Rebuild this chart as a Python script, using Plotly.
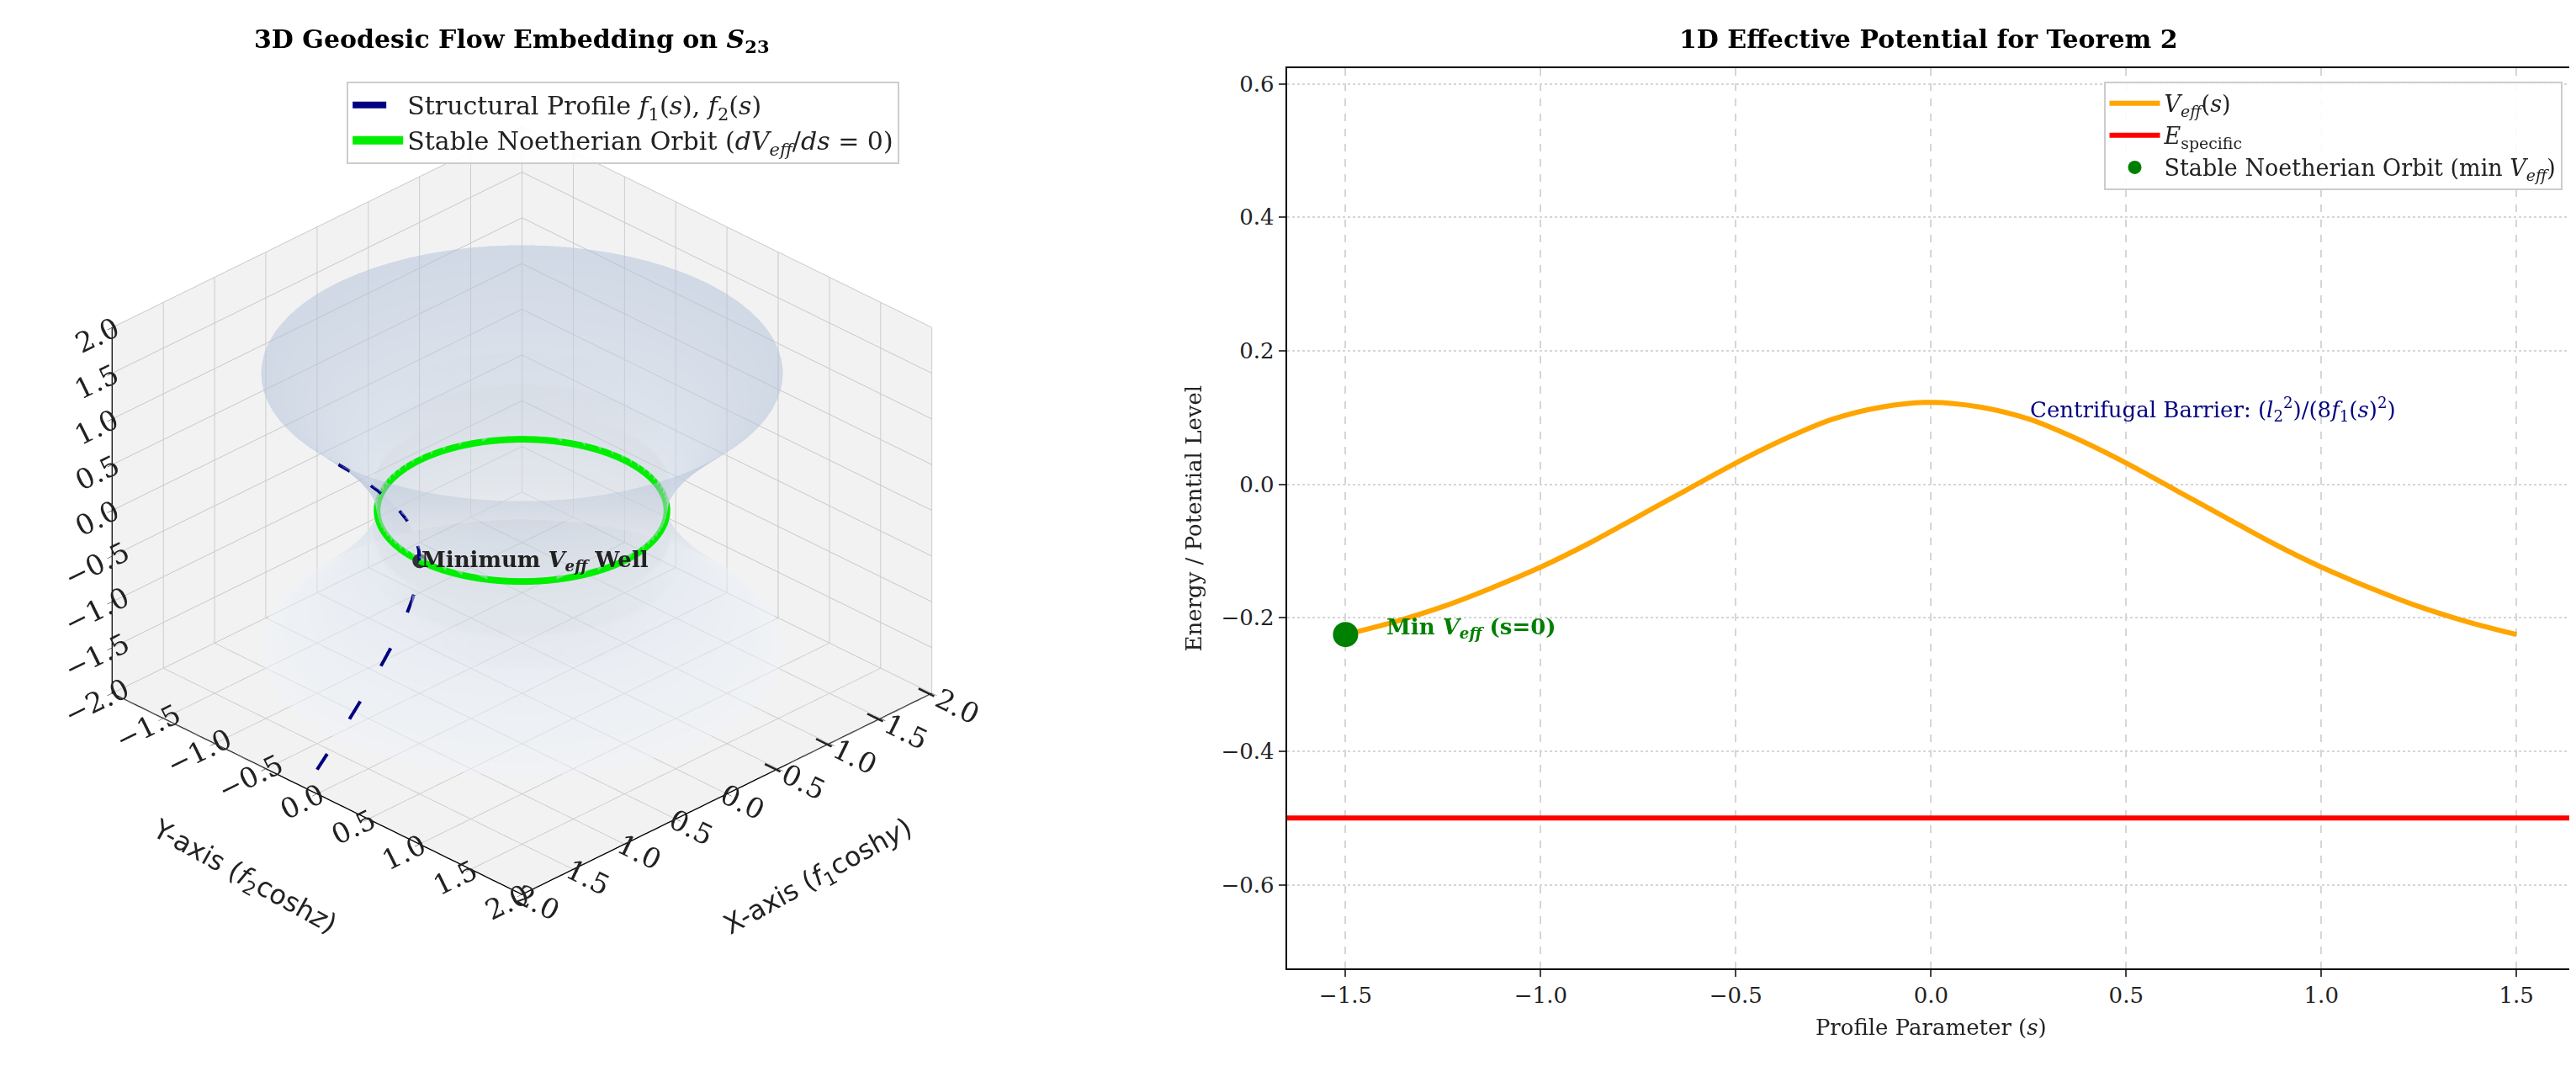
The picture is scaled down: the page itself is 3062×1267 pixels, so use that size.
import numpy as np
import plotly.graph_objects as go

# ---- data ----
# 1D effective potential (right panel)
s_vals = [-1.5, -1.375, -1.25, -1.125, -1.0, -0.875, -0.75, -0.625, -0.5, -0.375, -0.25, -0.125,
          0.0, 0.125, 0.25, 0.375, 0.5, 0.625, 0.75, 0.875, 1.0, 1.125, 1.25, 1.375, 1.5]
v_eff = [-0.225, -0.206, -0.183, -0.155, -0.124, -0.088, -0.048, -0.008, 0.032, 0.068, 0.098, 0.116,
         0.123, 0.116, 0.098, 0.068, 0.032, -0.008, -0.048, -0.088, -0.124, -0.155, -0.183, -0.206, -0.225]
e_specific = -0.5
min_point_s = [-1.5]
min_point_v = [-0.225]

# 3D structural profile (dashed curve, lies in the y = 0 plane)
profile_x = [2.352, 2.104, 1.888, 1.702, 1.543, 1.408, 1.295, 1.202, 1.128, 1.071, 1.031, 1.008,
             1.0, 1.008, 1.031, 1.071, 1.128, 1.202, 1.295, 1.408, 1.543, 1.702, 1.888, 2.104, 2.352]
profile_z = [-2.129, -1.857, -1.602, -1.379, -1.175, -0.991, -0.822, -0.667, -0.521, -0.384, -0.253, -0.125,
             0.0, 0.125, 0.253, 0.384, 0.521, 0.667, 0.822, 0.991, 1.175, 1.379, 1.602, 1.857, 2.129]

# surface of revolution: radius at each height
surf_z = [-1.5, -1.25, -1.0, -0.75, -0.5, -0.25, 0.0, 0.25, 0.5, 0.75, 1.0, 1.25, 1.5]
surf_r = [1.80, 1.60, 1.41, 1.25, 1.12, 1.03, 1.0, 1.03, 1.12, 1.25, 1.41, 1.60, 1.80]

orbit_radius = 1.0
orbit_height = 0.0
well_point = [1.0, 0.0, 0.0]

SERIF = "DejaVu Serif"
SANS = "DejaVu Sans"

fig = go.Figure()

# surface mesh
theta = np.linspace(0, 2 * np.pi, 80)
zz = np.array(surf_z)
rr = np.array(surf_r)
Xs = np.outer(rr, np.cos(theta))
Ys = np.outer(rr, np.sin(theta))
Zs = np.outer(zz, np.ones_like(theta))
fig.add_trace(go.Surface(
    x=Xs, y=Ys, z=Zs,
    colorscale=[[0, '#eef2f8'], [0.45, '#d6e0ee'], [1, '#aebfd8']],
    surfacecolor=Zs,
    opacity=0.5, showscale=False, hoverinfo='skip', showlegend=False,
    lighting=dict(ambient=0.95, diffuse=0.2, specular=0.02),
))

fig.add_trace(go.Scatter3d(
    x=profile_x, y=[0] * len(profile_x), z=profile_z,
    mode='lines', line=dict(color='navy', width=8, dash='longdash'),
    name='Structural Profile <i>f</i><sub>1</sub>(<i>s</i>), <i>f</i><sub>2</sub>(<i>s</i>)',
    legend='legend',
))

phi = np.linspace(0, 2 * np.pi, 120)
fig.add_trace(go.Scatter3d(
    x=orbit_radius * np.cos(phi), y=orbit_radius * np.sin(phi),
    z=np.full_like(phi, orbit_height),
    mode='lines', line=dict(color='#00ee00', width=16),
    name='Stable Noetherian Orbit (<i>dV</i><sub><i>eff</i></sub>/<i>ds</i> = 0)',
    legend='legend',
))

fig.add_trace(go.Scatter3d(
    x=[well_point[0]], y=[well_point[1]], z=[well_point[2]],
    mode='markers', marker=dict(color='#2f3338', size=10),
    showlegend=False,
))

# right panel
fig.add_trace(go.Scatter(
    x=s_vals, y=v_eff, mode='lines', line=dict(color='orange', width=6, shape='spline'),
    name='<i>V</i><sub><i>eff</i></sub>(<i>s</i>)', xaxis='x', yaxis='y', legend='legend2',
))
fig.add_trace(go.Scatter(
    x=[-1.65, 1.65], y=[e_specific, e_specific], mode='lines',
    line=dict(color='red', width=6),
    name='<i>E</i><sub>specific</sub>', xaxis='x', yaxis='y', legend='legend2',
))
fig.add_trace(go.Scatter(
    x=min_point_s, y=min_point_v, mode='markers',
    marker=dict(color='green', size=30),
    name='Stable Noetherian Orbit (min <i>V</i><sub><i>eff</i></sub>)',
    xaxis='x', yaxis='y', legend='legend2',
))

axis3d = dict(
    range=[-2, 2], tickvals=[-2, -1.5, -1, -0.5, 0, 0.5, 1, 1.5, 2],
    ticktext=['−2.0', '−1.5', '−1.0', '−0.5', '0.0', '0.5', '1.0', '1.5', '2.0'],
    backgroundcolor='rgb(242,242,242)', showbackground=True,
    gridcolor='rgb(200,200,200)', gridwidth=2,
    showline=True, linecolor='black', linewidth=3,
    zeroline=False, ticks='outside', tickcolor='black', ticklen=8,
    tickfont=dict(family=SERIF, size=20, color='#222'),
    showspikes=False, title=dict(text=''),
)

fig.update_layout(
    width=3062, height=1267,
    paper_bgcolor='white', plot_bgcolor='white',
    margin=dict(l=0, r=0, t=0, b=0),
    font=dict(family=SERIF, size=26, color='#222'),
    scene=dict(
        domain=dict(x=[0.0, 0.40], y=[0.05, 0.988]),
        xaxis=axis3d,
        yaxis=axis3d,
        zaxis=axis3d,
        aspectmode='manual', aspectratio=dict(x=1.16, y=1.16, z=0.84),
        camera=dict(eye=dict(x=1.08, y=1.08, z=0.84), center=dict(x=0, y=0, z=-0.02),
                    projection=dict(type='orthographic')),
        annotations=[dict(
            x=well_point[0], y=well_point[1], z=well_point[2],
            text='<b>Minimum <i>V</i><sub><i>eff</i></sub> Well</b>',
            showarrow=False, xanchor='left', yanchor='middle',
            font=dict(family=SERIF, size=26, color='#222'),
        )],
    ),
    xaxis=dict(
        domain=[0.497, 0.997], range=[-1.65, 1.65],
        tickvals=[-1.5, -1.0, -0.5, 0.0, 0.5, 1.0, 1.5],
        ticktext=['−1.5', '−1.0', '−0.5', '0.0', '0.5', '1.0', '1.5'],
        showline=True, mirror=True, linecolor='black', linewidth=2,
        ticks='outside', ticklen=8, tickwidth=2,
        showgrid=True, gridcolor='#d6d6d6', griddash='dash', gridwidth=1.5,
        zeroline=False,
        title=dict(text='Profile Parameter (<i>s</i>)', font=dict(family=SERIF, size=26)),
        tickfont=dict(family=SERIF, size=26),
    ),
    yaxis=dict(
        domain=[0.098, 0.942], range=[-0.725, 0.623],
        tickvals=[-0.6, -0.4, -0.2, 0.0, 0.2, 0.4, 0.6],
        ticktext=['−0.6', '−0.4', '−0.2', '0.0', '0.2', '0.4', '0.6'],
        showline=True, mirror=True, linecolor='black', linewidth=2,
        ticks='outside', ticklen=8, tickwidth=2,
        showgrid=True, gridcolor='#d6d6d6', griddash='dot', gridwidth=2,
        zeroline=False,
        title=dict(text='Energy / Potential Level', font=dict(family=SERIF, size=26)),
        tickfont=dict(family=SERIF, size=26),
    ),
    legend=dict(
        x=0.132, y=0.93, xanchor='left', yanchor='top',
        bgcolor='rgba(255,255,255,0.9)', bordercolor='#cccccc', borderwidth=2,
        font=dict(family=SERIF, size=30), itemwidth=60,
    ),
    legend2=dict(
        x=0.992, y=0.93, xanchor='right', yanchor='top',
        bgcolor='rgba(255,255,255,0.9)', bordercolor='#cccccc', borderwidth=2,
        font=dict(family=SERIF, size=27), itemwidth=60,
    ),
    annotations=[
        dict(text='<b>3D Geodesic Flow Embedding on <i>S</i><sub>23</sub></b>',
             x=0.196, y=0.985, xref='paper', yref='paper', xanchor='center', yanchor='top',
             showarrow=False, font=dict(family=SERIF, size=30, color='black')),
        dict(text='<b>1D Effective Potential for Teorem 2</b>',
             x=0.746, y=0.985, xref='paper', yref='paper', xanchor='center', yanchor='top',
             showarrow=False, font=dict(family=SERIF, size=30, color='black')),
        dict(text='Centrifugal Barrier: (<i>l</i><sub>2</sub><sup>2</sup>)/(8<i>f</i><sub>1</sub>(<i>s</i>)<sup>2</sup>)',
             x=0.25, y=0.113, xref='x', yref='y', xanchor='left', yanchor='middle',
             showarrow=False, font=dict(family=SERIF, size=26, color='navy')),
        dict(text='<b>Min <i>V</i><sub><i>eff</i></sub> (s=0)</b>',
             x=-1.4, y=-0.215, xref='x', yref='y', xanchor='left', yanchor='middle',
             showarrow=False, font=dict(family=SERIF, size=26, color='green')),
        # 3D axis titles, placed along the bottom edges of the box
        dict(text='Y-axis (<i>f</i><sub>2</sub>cosh<i>z</i>)',
             x=0.092, y=0.183, xref='paper', yref='paper', xanchor='center', yanchor='middle',
             textangle=29, showarrow=False, font=dict(family=SANS, size=32, color='#222')),
        dict(text='X-axis (<i>f</i><sub>1</sub>cosh<i>y</i>)',
             x=0.315, y=0.183, xref='paper', yref='paper', xanchor='center', yanchor='middle',
             textangle=-29, showarrow=False, font=dict(family=SANS, size=32, color='#222')),
    ],
)

fig.write_html("out.html")
